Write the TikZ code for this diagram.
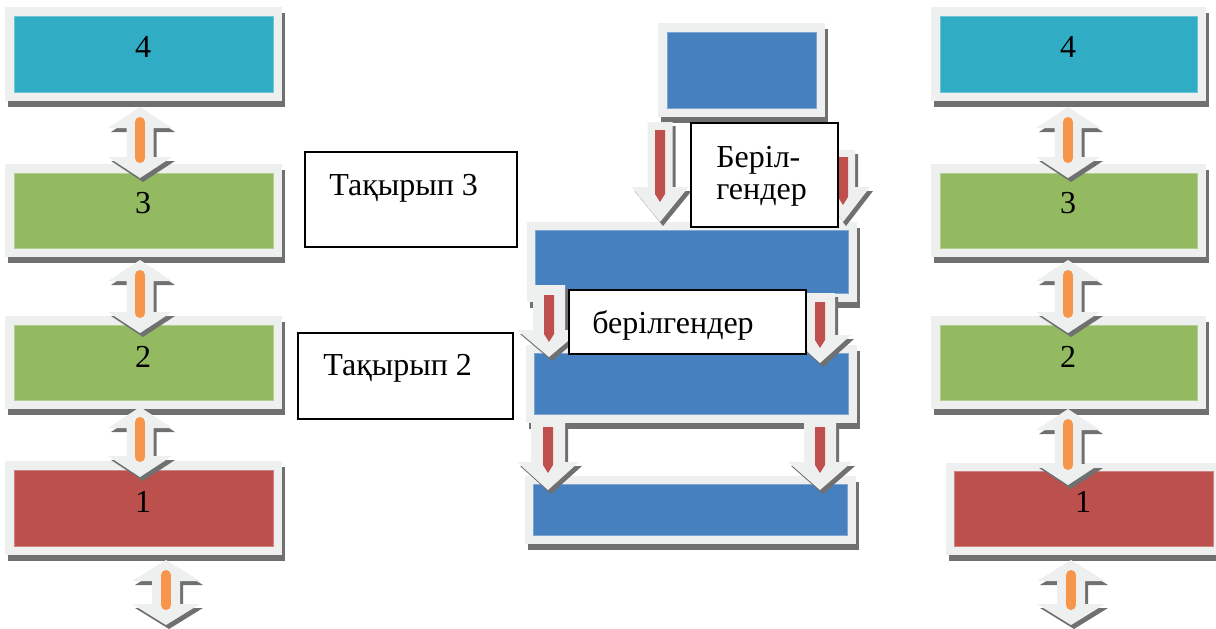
\documentclass[tikz,border=0pt]{standalone}
\usepackage{fontspec}
\setmainfont{Liberation Serif}
\definecolor{frameg}{HTML}{EEF0F0}
\definecolor{shad}{HTML}{707070}
\definecolor{tealc}{HTML}{31ACC5}
\definecolor{greenc}{HTML}{93BA60}
\definecolor{redc}{HTML}{BC504D}
\definecolor{bluec}{HTML}{4680BE}
\definecolor{orng}{HTML}{F7964A}
\definecolor{redbar}{HTML}{C0504D}
% #1 name, #2 x1, #3 y1, #4 x2, #5 y2 (inner), #6 fill, #7 frame margin
\newcommand\PanelBox[7]{%
  \fill[shad] ({#2-#7+3},{#3-#7+6}) rectangle ({#4+#7+3},{#5+#7+6});
  \fill[frameg] ({#2-#7},{#3-#7}) rectangle ({#4+#7},{#5+#7});
  \node[fill=#6, draw=#6!70!white, line width=0.5pt, inner sep=0pt,
        minimum width={(#4-#2)*0.75pt}, minimum height={(#5-#3)*0.75pt}]
        (#1) at ({(#2+#4)/2},{(#3+#5)/2}) {};
}
% #1 cx, #2 ytop, #3 ybot, #4 head half width, #5 shaft half width
\newcommand\DblArrow[5]{%
  \foreach \dx/\dy/\cl in {3/4/shad,0/0/frameg}{%
    \fill[\cl] ({#1+\dx},{#2+\dy}) -- ({#1+\dx+#4},{#2+\dy+21}) -- ({#1+\dx+#5},{#2+\dy+21})
      -- ({#1+\dx+#5},{#3+\dy-21}) -- ({#1+\dx+#4},{#3+\dy-21}) -- ({#1+\dx},{#3+\dy})
      -- ({#1+\dx-#4},{#3+\dy-21}) -- ({#1+\dx-#5},{#3+\dy-21}) -- ({#1+\dx-#5},{#2+\dy+21})
      -- ({#1+\dx-#4},{#2+\dy+21}) -- cycle;}
  \draw[orng, line width=7.5pt, line cap=round] (#1,{#2+15}) -- (#1,{#3-20});
}
% #1 cx, #2 ytop, #3 head base, #4 tip, #5 red top, #6 red bottom, #7 shaft half, #8 head half
\newcommand\DnArrow[8]{%
  \foreach \dx/\dy/\cl in {3/4/shad,0/0/frameg}{%
    \fill[\cl] ({#1+\dx-#7},{#2+\dy}) -- ({#1+\dx+#7},{#2+\dy}) -- ({#1+\dx+#7},{#3+\dy})
      -- ({#1+\dx+#8},{#3+\dy}) -- ({#1+\dx},{#4+\dy}) -- ({#1+\dx-#8},{#3+\dy})
      -- ({#1+\dx-#7},{#3+\dy}) -- cycle;}
  \fill[redbar] ({#1-5},#5) -- ({#1+5},#5) -- ({#1+5},{#6-8}) -- (#1,#6) -- ({#1-5},{#6-8}) -- cycle;
}
\tikzset{
  textbox/.style={draw=black, line width=1.1pt, fill=white, inner sep=0pt},
  lbl/.style={anchor=base west, inner sep=0pt, font=\fontsize{24}{28}\selectfont},
  digit/.style={anchor=base, inner sep=0pt, font=\fontsize{24}{28}\selectfont}
}
\begin{document}
\begin{tikzpicture}[x=0.75pt,y=-0.75pt]
\useasboundingbox (0,0) rectangle (1216,628);
% left column
\PanelBox{L4}{14}{16}{273}{92}{tealc}{9}
\PanelBox{L3}{14}{173}{273}{248}{greenc}{9}
\PanelBox{L2}{14}{325}{273}{400}{greenc}{9}
\PanelBox{L1}{14}{470}{273}{546}{redc}{9}
% right column
\PanelBox{R4}{940}{16}{1197}{92}{tealc}{9}
\PanelBox{R3}{940}{173}{1197}{248}{greenc}{9}
\PanelBox{R2}{940}{325}{1197}{400}{greenc}{9}
\PanelBox{R1}{954}{471}{1213}{546}{redc}{8.5}
% centre
\PanelBox{T}{667}{32}{816}{108}{bluec}{9}
\PanelBox{B1}{535}{230}{848}{293}{bluec}{8.5}
\PanelBox{B2}{534}{353}{848}{414}{bluec}{8.5}
\PanelBox{B3}{533}{484}{847}{535}{bluec}{8.5}
% double arrows
\DblArrow{140}{107}{178}{32}{13.5}
\DblArrow{140}{260}{333}{32}{13.5}
\DblArrow{140}{407}{477}{32}{13.5}
\DblArrow{166}{560}{625}{34}{14}
\DblArrow{1068}{107}{178}{32}{13.5}
\DblArrow{1068}{260}{333}{32}{13.5}
\DblArrow{1068}{409}{485}{32}{13.5}
\DblArrow{1071}{560}{625}{34}{14}
% down arrows
\DnArrow{660}{122}{187}{222}{130}{202}{12.5}{28.5}
\DnArrow{843}{150}{187}{222}{157}{205}{12}{27}
\DnArrow{549}{285}{330}{357}{295}{342}{16}{32}
\DnArrow{820}{293}{335}{363}{302}{348}{15}{31}
\DnArrow{548}{420}{462}{490}{427}{473}{17}{31}
\DnArrow{820}{420}{462}{490}{427}{473}{16}{32}
% text boxes
\node[textbox, minimum width={212*0.75pt}, minimum height={95*0.75pt}] (tb3) at (411,199.5) {};
\node[lbl] at (329,195) {Тақырып 3};
\node[textbox, minimum width={215*0.75pt}, minimum height={86*0.75pt}] (tb2) at (405.5,376) {};
\node[lbl] at (323,375) {Тақырып 2};
\node[textbox, minimum width={147*0.75pt}, minimum height={104*0.75pt}] (tbb) at (764.5,175) {};
\node[lbl] at (716,167) {Беріл-};
\node[lbl] at (716,199) {гендер};
\node[textbox, minimum width={237*0.75pt}, minimum height={64*0.75pt}] (tbs) at (687.5,322) {};
\node[lbl] at (592,333) {берілгендер};
% digits
\node[digit] at (143,57) {4};
\node[digit] at (143,213) {3};
\node[digit] at (143,367) {2};
\node[digit] at (143,512) {1};
\node[digit] at (1068,57) {4};
\node[digit] at (1068,213) {3};
\node[digit] at (1068,367) {2};
\node[digit] at (1083,512) {1};
\end{tikzpicture}
\end{document}
